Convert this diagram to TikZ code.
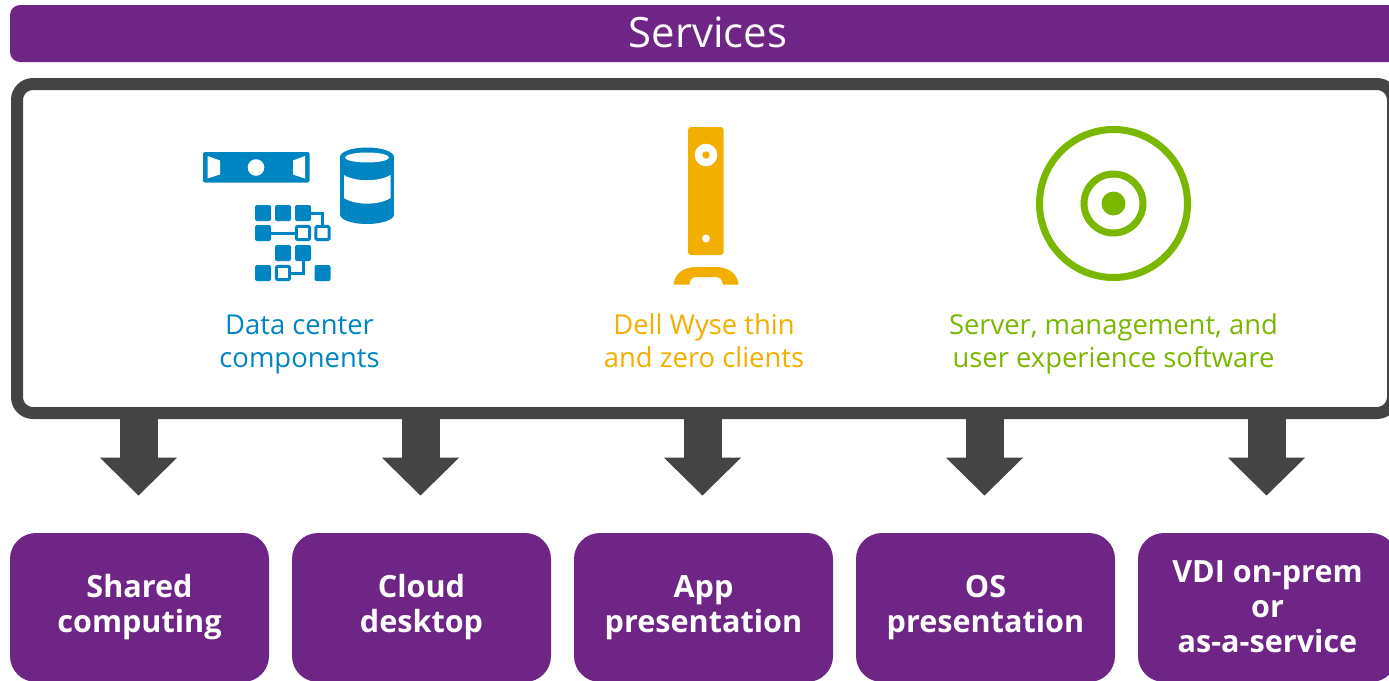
\documentclass[tikz,border=0pt]{standalone}
\usepackage{fontspec}
\setmainfont{Open Sans}
\usetikzlibrary{arrows.meta,positioning}

\definecolor{dellpurple}{HTML}{6E2585}
\definecolor{dellgrey}{HTML}{444444}
\definecolor{dellblue}{HTML}{0085C3}
\definecolor{dellyellow}{HTML}{F2AF00}
\definecolor{dellgreen}{HTML}{7AB800}

\tikzset{
  servicebox/.style={fill=dellpurple, rounded corners=13pt, minimum width=129.5pt, minimum height=74.5pt,
    text=white, align=center, font=\fontsize{15.3}{17.5}\selectfont\bfseries},
  twolines/.style={execute at begin node={\rule{0pt}{15pt}}},
  iconlabel/.style={align=center, font=\fontsize{13.7}{16.5}\selectfont},
  downarrow/.style={dellgrey, line width=19pt, shorten >=18.5pt, transform canvas={xshift=-.5pt},
    -{Triangle[width=37.5pt,length=19pt]}},
  cellfull/.style={fill=dellblue, rounded corners=1pt, minimum size=8pt, inner sep=0pt, outer sep=0pt},
  cellopen/.style={draw=dellblue, fill=white, line width=1.5pt, rounded corners=.6pt, minimum size=6.6pt, inner sep=0pt, outer sep=.75pt},
  celllink/.style={draw=dellblue, line width=1.5pt}
}

\begin{document}
\begin{tikzpicture}[x=.5pt, y=-.5pt]
\useasboundingbox (0,0) rectangle (1389,681);

% top bar and frame
\node[fill=dellpurple, rounded corners=5pt, minimum width=698pt, minimum height=28.5pt, text=white,
  font=\fontsize{20.9}{24}\selectfont] (services) at (708,33.5) {Services\rule[-1pt]{0pt}{1pt}};
\node[draw=dellgrey, fill=white, line width=6pt, rounded corners=8pt, minimum width=688pt, minimum height=164.5pt,
  outer sep=3pt] (frame) at (705,248.5) {};

% service boxes
\node[servicebox, twolines] (shared) at (139.5,607.5) {Shared\\computing};
\node[servicebox, twolines] (cloud) at (421.5,607.5) {Cloud\\desktop};
\node[servicebox, twolines] (app) at (703.5,607.5) {App\\presentation};
\node[servicebox, twolines] (os) at (985.5,607.5) {OS\\presentation};
\node[servicebox] (vdi) at (1267.5,607.5) {VDI on-prem\\or\\as-a-service\rule[-1pt]{0pt}{1pt}};

% arrows
\foreach \n in {shared,cloud,app,os,vdi}
  \draw[downarrow] (frame.south -| \n.north) -- (\n.north);

% labels
\node[iconlabel, text=dellblue] (datalabel) at (299.5,345) {Data center\\components};
\node[iconlabel, text=dellyellow] (wyselabel) at (704,341) {Dell Wyse thin\\and zero clients};
\node[iconlabel, text=dellgreen] (softlabel) at (1113.5,344) {Server, management, and\\user experience software};

% data center icon
\fill[dellblue, rounded corners=1pt] (203,152) rectangle (309.5,182.5);
\fill[white] (207.5,156) -- (220,160.5) -- (220,174.5) -- (207.5,178.5) -- cycle;
\fill[white] (305,156) -- (293,160.5) -- (293,174.5) -- (305,178.5) -- cycle;
\fill[white] (256,167.5) circle (8.3);

\fill[dellblue] (367,157) ellipse (27 and 9.5);
\fill[dellblue] (340,157) rectangle (394,214.5);
\fill[dellblue] (367,214.5) ellipse (27 and 9.5);
\fill[white] (367,157.5) ellipse (22 and 5);
\fill[white] (344,175) .. controls (355,182) and (379,182) .. (390.5,175) -- (390.5,198)
  .. controls (379,205.5) and (355,205.5) .. (344,198) -- cycle;

\node[cellfull] (c11) at (263,213) {};
\node[cellfull] (c12) at (283,213) {};
\node[cellfull] (c13) at (303,213) {};
\node[cellfull] (c21) at (263,233) {};
\node[cellopen] (c23) at (303,233) {};
\node[cellopen] (c24) at (322.5,233) {};
\node[cellfull] (c32) at (283,253) {};
\node[cellfull] (c33) at (303,253) {};
\node[cellfull] (c41) at (263,273) {};
\node[cellopen] (c42) at (283,273) {};
\node[cellfull] (c44) at (322.5,273) {};
\draw[celllink] (c13.east) -| (c24.north);
\draw[celllink] (c21.east) -- (c23.west);
\draw[celllink] (c33.south) |- (c42.east);

% thin client icon
\fill[dellyellow, rounded corners=1.5pt] (688,127) rectangle (723.5,255);
\fill[white] (706,155) circle (11.3);
\fill[dellyellow] (706,155) circle (3.7);
\fill[white] (706,238.5) circle (4);
\fill[dellyellow] (673.5,284.5) .. controls (675,272) and (685,267) .. (697,267) -- (715,267)
  .. controls (727,267) and (737,272) .. (738.5,284.5) -- (723,284.5)
  .. controls (722,279) and (720,277) .. (715,277) -- (697,277)
  .. controls (692,277) and (690,279) .. (689.5,284.5) -- cycle;

% software icon
\draw[dellgreen, line width=3.5pt] (1113.5,203.5) circle (74);
\draw[dellgreen, line width=3.5pt] (1113.5,203.5) circle (29.5);
\fill[dellgreen] (1113.5,203.5) circle (12);

\end{tikzpicture}
\end{document}
